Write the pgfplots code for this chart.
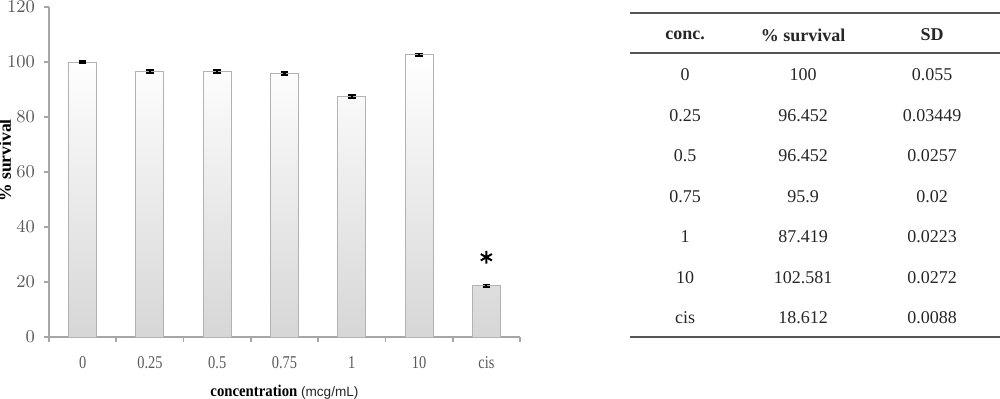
\documentclass[border=0pt]{standalone}
\usepackage{fontspec}
\setmainfont{Liberation Serif}
\setsansfont{Liberation Sans}
\newfontfamily\condfont[FakeStretch=0.8]{Liberation Serif}
\newfontfamily\labfont[FakeStretch=0.9]{Liberation Serif}
\usepackage{pgfplots}
\pgfplotsset{compat=1.18}
\definecolor{axgray}{HTML}{A6A6A6}
\definecolor{tickgray}{HTML}{595959}
\definecolor{rulegray}{HTML}{555555}
\definecolor{txt}{HTML}{262626}
\begin{document}
\begin{tikzpicture}[x=1pt,y=1pt]
\path[use as bounding box] (0,0) rectangle (500,199);
\begin{axis}[
  at={(24.5pt,30.5pt)}, anchor=south west,
  scale only axis, width=235.5pt, height=165pt,
  xmin=-0.5, xmax=6.5, ymin=0, ymax=120,
  axis x line*=bottom, axis y line*=left,
  axis line style={draw=axgray, line width=0.8pt},
  tick align=outside,
  tick style={draw=axgray, line width=0.8pt},
  major tick length=2.4pt,
  ytick={0,20,...,120},
  xtick={-0.5,0.5,...,6.5},
  xticklabels={},
  extra x ticks={0,1,2,3,4,5,6},
  extra x tick labels={0,0.25,0.5,0.75,1,10,cis},
  extra x tick style={major tick length=0pt},
  xticklabel style={font=\condfont\fontsize{9}{10}\selectfont, text=tickgray, anchor=center, yshift=-13pt},
  yticklabel style={font=\condfont\fontsize{9}{10}\selectfont, text=tickgray, anchor=east, inner sep=0pt, xshift=-4.5pt},
  xlabel={\textbf{concentration} {\sffamily\fontsize{6.8}{8}\selectfont\color{txt}(mcg/mL)}},
  xlabel style={at={(axis description cs:0.5,0)}, anchor=base, yshift=-29.5pt, font=\labfont\fontsize{8.2}{9}\selectfont, inner sep=0pt},
  ylabel={\% survival},
  ylabel style={at={(axis description cs:0,0.535)}, anchor=center, yshift=22pt, font=\bfseries\fontsize{8.8}{10}\selectfont, inner sep=0pt},
  clip=false,
]
\addplot[ybar, bar width=14pt, draw=gray!60, line width=0.5pt,
  top color=white, bottom color=black!16,
  error bars/.cd, y dir=both, y explicit,
  error bar style={black, line width=1.1pt},
  error mark options={rotate=90, mark size=1.9pt, black, line width=0.9pt}]
coordinates {
  (0,100) +- (0,0.5)
  (1,96.452) +- (0,0.5)
  (2,96.452) +- (0,0.5)
  (3,95.9) +- (0,0.5)
  (4,87.419) +- (0,0.5)
  (5,102.581) +- (0,0.5)
  (6,18.612) +- (0,0.5)
};
\addplot[only marks, mark=asterisk, mark size=3.2pt, line width=1pt, black] coordinates {(6,29)};
\end{axis}
% table
\draw[rulegray, line width=0.9pt] (315,192.5) -- (500,192.5);
\draw[rulegray, line width=0.9pt] (315,172.5) -- (500,172.5);
\draw[rulegray, line width=0.9pt] (315,30.5) -- (500,30.5);
\begin{scope}[every node/.style={font=\fontsize{9}{10}\selectfont, text=txt, inner sep=0pt, anchor=center}]
\node[font=\bfseries\fontsize{9}{10}\selectfont] at (342.5,181.5) {conc.};
\node[font=\bfseries\fontsize{9}{10}\selectfont] at (401.5,181.5) {\% survival};
\node[font=\bfseries\fontsize{9}{10}\selectfont] at (466,181.5) {SD};
\node at (342.5,161.5) {0};     \node at (401.5,161.5) {100};     \node at (466,161.5) {0.055};
\node at (342.5,141.25) {0.25}; \node at (401.5,141.25) {96.452}; \node at (466,141.25) {0.03449};
\node at (342.5,121) {0.5};     \node at (401.5,121) {96.452};    \node at (466,121) {0.0257};
\node at (342.5,100.75) {0.75}; \node at (401.5,100.75) {95.9};   \node at (466,100.75) {0.02};
\node at (342.5,80.5) {1};      \node at (401.5,80.5) {87.419};   \node at (466,80.5) {0.0223};
\node at (342.5,60.25) {10};    \node at (401.5,60.25) {102.581}; \node at (466,60.25) {0.0272};
\node at (342.5,40) {cis};      \node at (401.5,40) {18.612};     \node at (466,40) {0.0088};
\end{scope}
\end{tikzpicture}
\end{document}
